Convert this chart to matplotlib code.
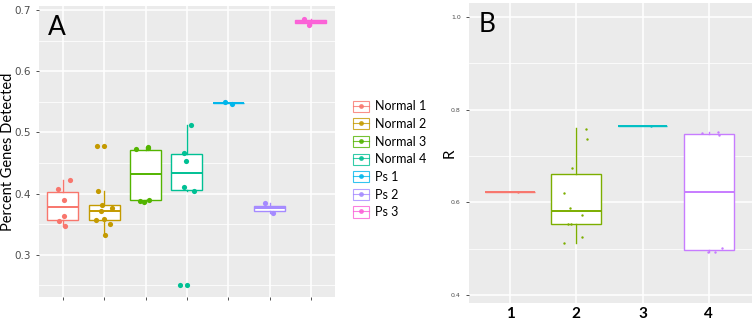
import matplotlib
matplotlib.use("Agg")
import matplotlib.pyplot as plt
from matplotlib.lines import Line2D
from matplotlib.patches import Patch
from matplotlib.legend_handler import HandlerTuple
from matplotlib.ticker import MultipleLocator

# ---------------- panel A data ----------------
groups_a = ["Normal 1", "Normal 2", "Normal 3", "Normal 4", "Ps 1", "Ps 2", "Ps 3"]
colors_a = ["#F8766D", "#C49A00", "#53B400", "#00C094", "#00B6EB", "#A58AFF", "#FB61D7"]

med_a = [0.378, 0.372, 0.432, 0.434, 0.548, 0.376, 0.681]
q1_a = [0.357, 0.357, 0.389, 0.406, 0.548, 0.371, 0.678]
q3_a = [0.403, 0.382, 0.471, 0.464, 0.548, 0.380, 0.683]
lo_a = [0.347, 0.333, 0.387, 0.404, 0.548, 0.368, 0.676]
hi_a = [0.422, 0.404, 0.476, 0.512, 0.548, 0.385, 0.686]

# jittered points: values and horizontal jitter per group
pts_a = [
    [0.422, 0.408, 0.390, 0.364, 0.355, 0.347],
    [0.478, 0.478, 0.404, 0.382, 0.376, 0.371, 0.357, 0.359, 0.350, 0.333],
    [0.476, 0.474, 0.473, 0.390, 0.388, 0.387],
    [0.512, 0.467, 0.454, 0.411, 0.404, 0.251, 0.251],
    [0.549, 0.547],
    [0.385, 0.368],
    [0.686, 0.676],
]
jit_a = [
    [0.16, -0.11, 0.03, 0.03, -0.10, 0.04],
    [-0.17, 0.0, -0.15, -0.06, 0.18, -0.09, -0.20, 0.0, 0.14, 0.02],
    [0.06, 0.06, -0.23, 0.07, -0.14, -0.04],
    [0.10, -0.06, -0.02, -0.08, 0.16, -0.16, 0.0],
    [-0.07, 0.09],
    [-0.10, 0.08],
    [-0.17, -0.05],
]

# ---------------- panel B data ----------------
groups_b = ["1", "2", "3", "4"]
colors_b = ["#F8766D", "#7CAE00", "#00BFC4", "#C77CFF"]

med_b = [0.623, 0.581, 0.765, 0.623]
q1_b = [0.623, 0.553, 0.765, 0.497]
q3_b = [0.623, 0.661, 0.765, 0.747]
lo_b = [0.623, 0.513, 0.765, 0.494]
hi_b = [0.623, 0.760, 0.765, 0.751]

pts_b = [
    [0.623],
    [0.759, 0.737, 0.675, 0.620, 0.588, 0.573, 0.554, 0.554, 0.525, 0.513],
    [0.765],
    [0.749, 0.751, 0.746, 0.502, 0.494, 0.494],
]
jit_b = [
    [0.12],
    [0.15, 0.16, -0.07, -0.19, -0.09, 0.08, -0.12, -0.08, 0.09, -0.18],
    [0.12],
    [-0.11, 0.14, 0.15, 0.20, -0.02, 0.10],
]

BG = "#EBEBEB"
TICK = "#4D4D4D"


def style_panel(ax):
    ax.set_facecolor(BG)
    for s in ax.spines.values():
        s.set_visible(False)
    ax.grid(which="major", color="white", lw=1.1)
    ax.grid(which="minor", axis="y", color="white", lw=0.55)
    ax.set_axisbelow(True)
    ax.tick_params(which="major", color="#333333", length=2.5, width=0.6)
    ax.tick_params(which="minor", length=0)


def draw_boxes(ax, med, q1, q3, lo, hi, colors, lw):
    stats = []
    for i in range(len(med)):
        stats.append(dict(med=med[i], q1=q1[i], q3=q3[i], whislo=lo[i], whishi=hi[i], fliers=[]))
    pos = list(range(1, len(med) + 1))
    bp = ax.bxp(stats, positions=pos, widths=0.75, showcaps=False, patch_artist=True,
                manage_ticks=False)
    for i, c in enumerate(colors):
        bp["boxes"][i].set(facecolor="white", edgecolor=c, lw=lw)
        bp["medians"][i].set(color=c, lw=lw * 1.4)
        for w in bp["whiskers"][2 * i:2 * i + 2]:
            w.set(color=c, lw=lw)


def draw_points(ax, pts, jit, colors, size):
    for i, (vals, dx) in enumerate(zip(pts, jit)):
        xs = [i + 1 + d for d in dx]
        ax.scatter(xs, vals, s=size, color=colors[i], zorder=3, lw=0)


fig = plt.figure(figsize=(7.53, 3.25), dpi=100)

# ---- panel A ----
ax1 = fig.add_axes([0.0518, 0.0862, 0.393, 0.8953])
style_panel(ax1)
draw_boxes(ax1, med_a, q1_a, q3_a, lo_a, hi_a, colors_a, 1.0)
draw_points(ax1, pts_a, jit_a, colors_a, 14)
ax1.set_xlim(0.42, 7.58)
ax1.set_ylim(0.231, 0.7065)
ax1.set_xticks(range(1, 8))
ax1.set_xticklabels([])
ax1.set_yticks([0.3, 0.4, 0.5, 0.6, 0.7])
ax1.set_yticklabels(["0.3", "0.4", "0.5", "0.6", "0.7"], color=TICK, fontsize=7.5)
ax1.yaxis.set_minor_locator(MultipleLocator(0.05))
ax1.set_ylabel("Percent Genes Detected", family="Lato", fontsize=10.5)
ax1.yaxis.set_label_coords(-0.082, 0.5)
ax1.text(0.03, 0.97, "A", transform=ax1.transAxes, ha="left", va="top",
         fontsize=19, family="Lato")

# legend with small boxplot glyphs
handles = []
for c in colors_a:
    box = Patch(facecolor="white", edgecolor=c, lw=0.8, alpha=0.8)
    mark = Line2D([], [], color=c, lw=0.8, marker="o", ms=2.5, alpha=0.8)
    handles.append((box, mark))
fig.legend(handles, groups_a, handler_map={tuple: HandlerTuple(ndivide=1, pad=0)},
           loc="upper left", bbox_to_anchor=(0.46, 0.71), frameon=False,
           prop={"family": "Lato", "size": 9}, handlelength=1.3, handleheight=1.0,
           handletextpad=0.45, labelspacing=0.45, borderpad=0)

# ---- panel B ----
ax2 = fig.add_axes([0.6228, 0.0677, 0.3758, 0.9231])
style_panel(ax2)
draw_boxes(ax2, med_b, q1_b, q3_b, lo_b, hi_b, colors_b, 1.0)
draw_points(ax2, pts_b, jit_b, colors_b, 3)
ax2.set_xlim(0.38, 4.65)
ax2.set_ylim(0.383, 1.03)
ax2.set_xticks(range(1, 5))
ax2.set_xticklabels(groups_b, fontsize=11, fontweight="bold", family="Lato")
ax2.tick_params(axis="x", length=0, pad=3)
ax2.set_yticks([0.4, 0.6, 0.8, 1.0])
ax2.set_yticklabels(["0.4", "0.6", "0.8", "1.0"], color=TICK, fontsize=4.5)
ax2.yaxis.set_minor_locator(MultipleLocator(0.1))
ax2.set_ylabel("R", family="Lato", fontsize=11)
ax2.yaxis.set_label_coords(-0.045, 0.5)
ax2.text(0.035, 0.97, "B", transform=ax2.transAxes, ha="left", va="top",
         fontsize=19, family="Lato")

fig.savefig("out.png", dpi=100)
